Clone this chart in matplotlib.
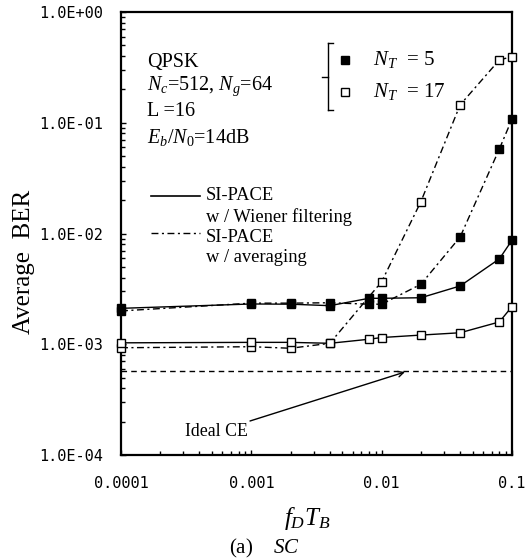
import numpy as np
import matplotlib
matplotlib.use("Agg")
import matplotlib.pyplot as plt
from matplotlib.lines import Line2D

plt.rcParams['font.family'] = ['Liberation Serif', 'DejaVu Serif']
plt.rcParams['mathtext.fontset'] = 'custom'
plt.rcParams['mathtext.rm'] = 'Liberation Serif'
plt.rcParams['mathtext.it'] = 'Liberation Serif:italic'
plt.rcParams['mathtext.bf'] = 'Liberation Serif:bold'

# ---- data ----
fdtb = [1e-4, 1e-3, 2e-3, 4e-3, 8e-3, 1e-2, 2e-2, 4e-2, 8e-2, 1e-1]
nt5_wiener = [2.11e-3, 2.31e-3, 2.30e-3, 2.23e-3, 2.60e-3, 2.60e-3, 2.63e-3, 3.36e-3, 5.9e-3, 8.7e-3]
nt5_avg = [2.0e-3, 2.35e-3, 2.35e-3, 2.37e-3, 2.3e-3, 2.3e-3, 3.48e-3, 9.3e-3, 5.8e-2, 0.108]
nt17_wiener = [1.03e-3, 1.04e-3, 1.04e-3, 1.02e-3, 1.11e-3, 1.15e-3, 1.21e-3, 1.27e-3, 1.59e-3, 2.19e-3]
nt17_avg = [9.3e-4, 9.5e-4, 9.2e-4, 1.02e-3, np.nan, 3.67e-3, 1.94e-2, 0.145, 0.369, 0.395]
ideal_ce = 5.73e-4

xticks = [1e-4, 1e-3, 1e-2, 1e-1]
xticklabels = ['0.0001', '0.001', '0.01', '0.1']
yticks = [1e-4, 1e-3, 1e-2, 1e-1, 1e0]
yticklabels = ['1.0E-04', '1.0E-03', '1.0E-02', '1.0E-01', '1.0E+00']

W, H = 527, 560
fig = plt.figure(figsize=(W / 100, H / 100), dpi=100)
L, R, T, B = 121, 512, 12, 455
ax = fig.add_axes([L / W, (H - B) / H, (R - L) / W, (B - T) / H])

def px(x, y):
    return ((x - L) / (R - L), (B - y) / (B - T))

x = np.array(fdtb)
dd = (0, (5, 2.5, 1.5, 2.5))
lw = 1.0
ms = 6.0

def series(y, ls, filled):
    y = np.array(y, dtype=float)
    m = ~np.isnan(y)
    ax.plot(x[m], y[m], color='black', lw=lw, linestyle=ls, marker='s', ms=ms,
            mfc='black' if filled else 'white', mec='black', mew=1.0, zorder=3,
            clip_on=False)

series(nt5_avg, dd, True)
series(nt17_avg, dd, False)
series(nt5_wiener, '-', True)
series(nt17_wiener, '-', False)
ax.plot([x[0], x[-1]], [ideal_ce, ideal_ce], color='black', lw=1.0, linestyle=(0, (4, 3)), zorder=2)

ax.set_xscale('log')
ax.set_yscale('log')
ax.set_xlim(1e-4, 1e-1)
ax.set_ylim(1e-4, 1e0)
ax.set_xticks(xticks)
ax.set_xticklabels(xticklabels)
ax.set_yticks(yticks)
ax.set_yticklabels(yticklabels)
for lab in ax.get_xticklabels() + ax.get_yticklabels():
    lab.set_family('DejaVu Sans Mono')
    lab.set_fontsize(11)
ax.tick_params(which='both', direction='in', top=False, right=False, width=1.0)
ax.tick_params(which='major', length=3.5)
ax.tick_params(which='minor', length=3)
ax.tick_params(axis='x', which='major', pad=15)
ax.tick_params(axis='y', which='major', pad=13)
for s in ax.spines.values():
    s.set_linewidth(1.6)

fig.text(24 / W, 1 - 262 / H, 'Average  BER', fontsize=18, rotation=90, ha='center', va='center')
fig.text(307 / W, 1 - 518 / H, r'$f_D T_B$', fontsize=18, ha='center', va='center')
fig.text(264 / W, 1 - 548 / H, r'(a)    $SC$', fontsize=15, ha='center', va='center')

# parameter text
fs = 14.5
tx = 147
for yy, s in [(63, 'QPSK'), (86, r'$N_c$=512, $N_g$=64'), (112, 'L =16'), (137, r'$E_b/N_0$=14dB')]:
    ax.text(*px(tx, yy), s, transform=ax.transAxes, fontsize=fs, ha='left', va='center')

# marker legend with bracket
bk = dict(color='black', lw=1.0, transform=ax.transAxes, clip_on=False)
for (x0, y0), (x1, y1) in [((328, 43), (328, 110)), ((328, 43), (333, 43)),
                           ((328, 110), (333, 110)), ((322, 77), (328, 77))]:
    a, b = px(x0, y0), px(x1, y1)
    ax.add_line(Line2D([a[0], b[0]], [a[1], b[1]], **bk))
for yy, filled, s in [(60, True, r'$N_T$  = 5'), (92, False, r'$N_T$  = 17')]:
    p = px(345, yy)
    ax.plot([p[0]], [p[1]], marker='s', ms=5.5, mfc='black' if filled else 'white',
            mec='black', mew=1.0, transform=ax.transAxes, clip_on=False)
    ax.text(*px(373, yy), s, transform=ax.transAxes, fontsize=15, ha='left', va='center')

# line legend
for yy, ty, ls, l1, l2 in [(196, 196, '-', 'SI-PACE', 'w / Wiener filtering'),
                           (233, 237, dd, 'SI-PACE', 'w / averaging')]:
    a, b = px(151, yy), px(200, yy)
    ax.add_line(Line2D([a[0], b[0]], [a[1], b[1]], color='black', lw=1.2 if ls == '-' else 1.0,
                       linestyle=ls, transform=ax.transAxes))
    ax.text(*px(206, ty), l1, transform=ax.transAxes, fontsize=13.3, ha='left', va='center')
    ax.text(*px(206, ty + 21), l2, transform=ax.transAxes, fontsize=13.3, ha='left', va='center')

# Ideal CE annotation
ax.text(*px(216, 431), 'Ideal CE', transform=ax.transAxes, fontsize=12.8, ha='center', va='center')
ax.annotate('', xy=px(405, 372), xytext=px(250, 421), xycoords='axes fraction',
            textcoords='axes fraction',
            arrowprops=dict(arrowstyle='->', color='black', lw=1.0, shrinkA=0, shrinkB=0))

fig.savefig('out.png', dpi=100)
